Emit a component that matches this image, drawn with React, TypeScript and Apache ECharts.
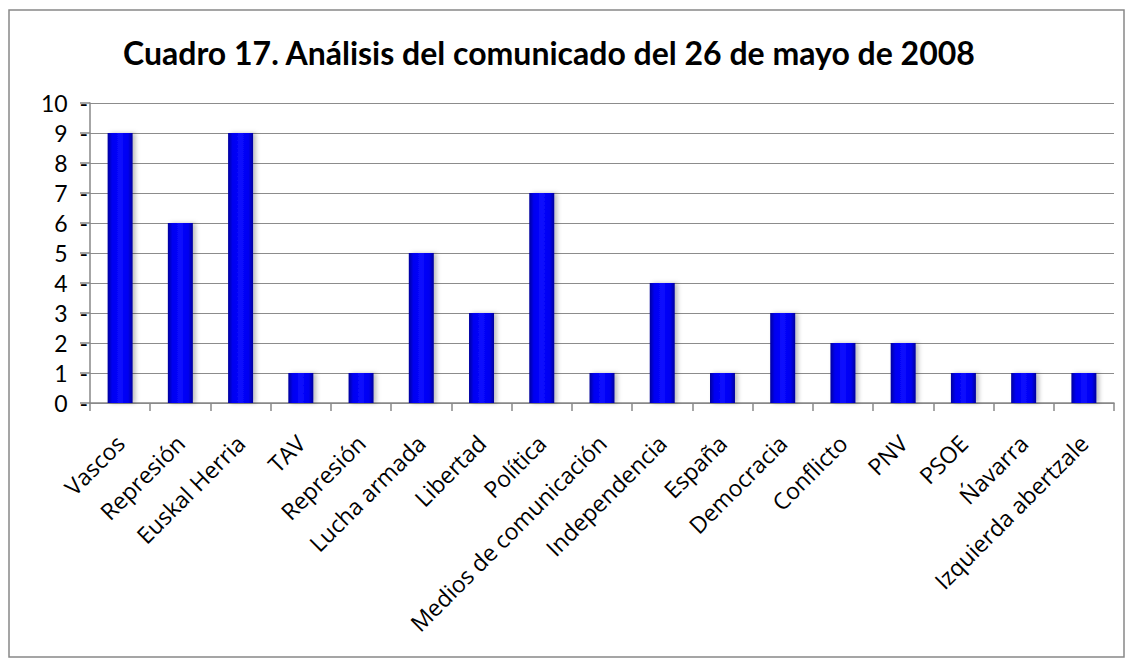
import React, { useEffect, useRef } from "react";
import * as echarts from "echarts";

const categories = [
  "Vascos",
  "Represión",
  "Euskal Herria",
  "TAV",
  "Represión",
  "Lucha armada",
  "Libertad",
  "Política",
  "Medios de comunicación",
  "Independencia",
  "España",
  "Democracia",
  "Conflicto",
  "PNV",
  "PSOE",
  "Ńavarra",
  "Izquierda abertzale",
];
const values = [9, 6, 9, 1, 1, 5, 3, 7, 1, 4, 1, 3, 2, 2, 1, 1, 1];
const yTicks = { min: 0, max: 10, interval: 1 };
const titleText = "Cuadro 17. Análisis del comunicado del 26 de mayo de 2008";

export default function App() {
  const ref = useRef<HTMLDivElement>(null);
  useEffect(() => {
    document.body.style.margin = "0";
    const chart = echarts.init(ref.current!, null, { renderer: "svg" });
    const titleFont = "Lato, 'Open Sans', sans-serif";
    const labelFont = "'Open Sans', 'Noto Sans', sans-serif";
    chart.setOption({
      animation: false,
      backgroundColor: "#ffffff",
      title: {
        text: titleText,
        left: 118,
        top: 31,
        textStyle: { fontFamily: titleFont, fontWeight: "bold", fontSize: 32, color: "#000" },
      },
      graphic: [
        {
          type: "rect",
          shape: { x: 9, y: 10, width: 1115, height: 647 },
          style: { fill: "none", stroke: "#888888", lineWidth: 1.5 },
          silent: true,
          z: -1,
        },
      ],
      grid: { left: 90, right: 18, top: 103, bottom: 263, containLabel: false },
      xAxis: {
        type: "category",
        data: categories,
        axisLine: { lineStyle: { color: "#888888", width: 1.5 } },
        axisTick: { show: true, length: 8, lineStyle: { color: "#888888", width: 1.5 } },
        axisLabel: {
          rotate: 45,
          interval: 0,
          fontFamily: labelFont,
          fontSize: 23,
          color: "#000",
          margin: 36,
        },
      },
      yAxis: {
        type: "value",
        min: yTicks.min,
        max: yTicks.max,
        interval: yTicks.interval,
        axisLine: { show: true, lineStyle: { color: "#888888", width: 1.5 } },
        axisTick: { show: true, length: 10, inside: false, lineStyle: { color: "#888888", width: 1.5 } },
        splitLine: { lineStyle: { color: "#8c8c8c", width: 1.2 } },
        axisLabel: {
          formatter: "{value}  -",
          fontFamily: titleFont,
          fontSize: 23,
          color: "#000",
          margin: 2,
        },
      },
      series: [
        {
          type: "bar",
          data: values,
          barWidth: 25,
          itemStyle: {
            color: {
              type: "linear",
              x: 0,
              y: 0,
              x2: 1,
              y2: 0,
              colorStops: [
                { offset: 0, color: "#00009c" },
                { offset: 0.18, color: "#0000f0" },
                { offset: 0.5, color: "#0a0aff" },
                { offset: 0.82, color: "#0000f0" },
                { offset: 1, color: "#00009c" },
              ],
            },
            shadowColor: "rgba(0,0,0,0.25)",
            shadowBlur: 4,
            shadowOffsetX: 3,
            shadowOffsetY: 0,
          },
        },
      ],
    });
    return () => chart.dispose();
  }, []);
  return <div ref={ref} style={{ width: 1132, height: 666 }} />;
}
